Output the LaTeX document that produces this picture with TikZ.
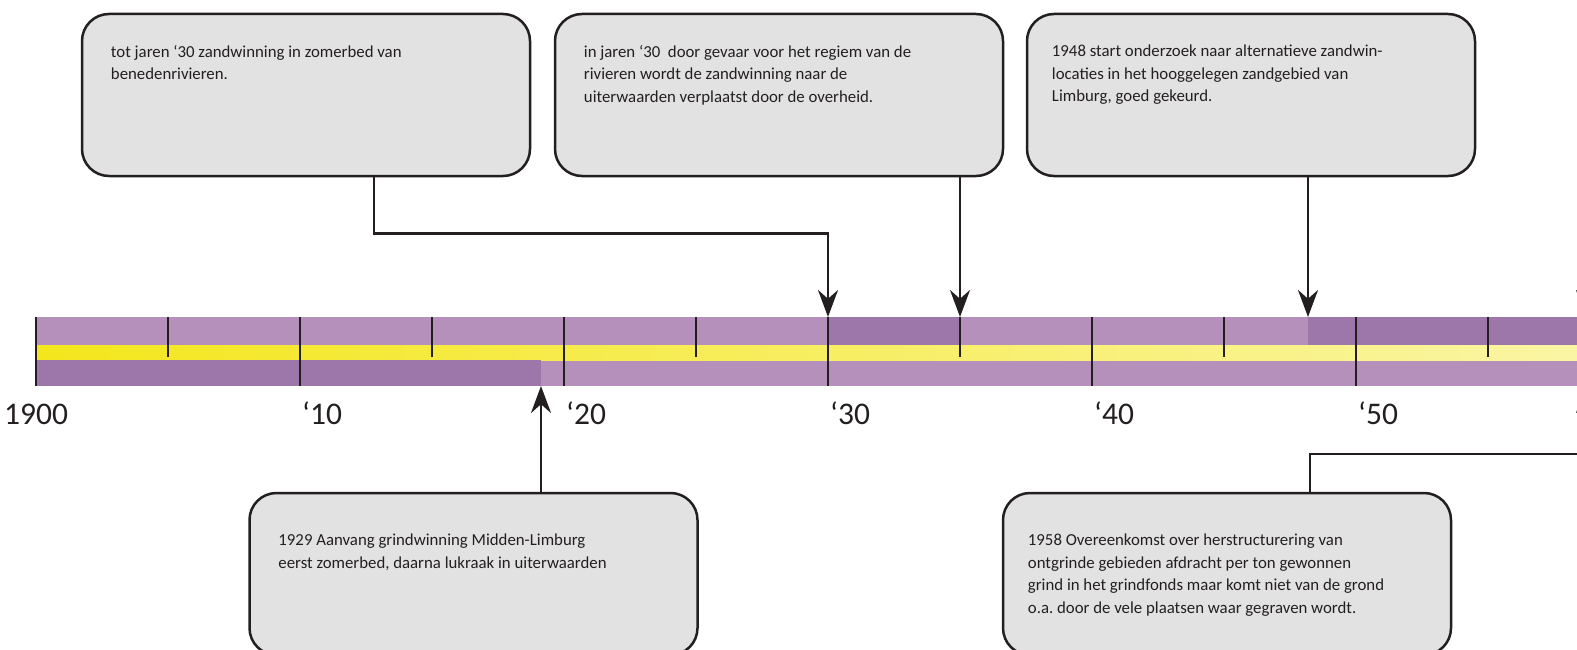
\documentclass[tikz,border=0pt]{standalone}
\usepackage{fontspec}
\setmainfont{Carlito}
\usetikzlibrary{arrows.meta, positioning}
\frenchspacing
\definecolor{barlight}{HTML}{B490BB}
\definecolor{bardark}{HTML}{9E77AA}
\definecolor{bandleft}{HTML}{F4E61C}
\definecolor{bandright}{HTML}{FAF5A4}
\definecolor{boxgray}{HTML}{E2E2E2}
\definecolor{inkblack}{HTML}{231F20}

\begin{document}
\begin{tikzpicture}[
    x=1pt, y=-1pt,
    event/.style={draw=inkblack, fill=boxgray, line width=2.5pt, rounded corners=27pt, minimum width=448pt, minimum height=162pt},
    eventtext/.style={inner sep=0pt, align=left, text=inkblack, font=\fontsize{16.8}{22.5}\selectfont},
    majortick/.style={draw=inkblack, line width=2.7pt},
    minortick/.style={draw=inkblack, line width=2.4pt},
    yearlabel/.style={anchor=base west, inner sep=0pt, text=inkblack, font=\fontsize{31.5}{31.5}\selectfont},
    arrow/.style={-{Stealth[length=27pt, width=20pt]}, line width=2.5pt, draw=inkblack},
]
    \useasboundingbox (0,0) rectangle (1577,650);
    \clip (0,0) rectangle (1577,650);

    % Time bar
    \fill[barlight] (36,317) rectangle (1600,386);
    \shade[left color=bandleft, right color=bandright] (36,345) rectangle (1577,360);
    \fill[bardark] (828,317) rectangle (960,345);
    \fill[bardark] (1308,317) rectangle (1600,345);
    \fill[bardark] (36,360) rectangle (541,386);

    % Ticks
    \foreach \yr in {0,10,...,50} \draw[majortick] ({36+\yr*26.4},317) -- ++(0,69);
    \foreach \yr in {5,15,...,55} \draw[minortick] ({36+\yr*26.4},317) -- ++(0,40);

    % Points on the bar
    \coordinate (t30) at (828,317);
    \coordinate (t35) at (960,317);
    \coordinate (t48) at (1308,317);
    \coordinate (t58) at (1586,317);
    \coordinate (b19) at (541,386);
    \coordinate (b58) at (1586,386);
    \coordinate (offbox) at (1586,176);

    % Year labels
    \node[yearlabel] (y00) at (4,424) {1900};
    \foreach \yr in {10,20,...,50} \node[yearlabel] (y\yr) at ({38+\yr*26.4},424) {‘\yr};

    % Event boxes
    \node[event] (ev1) at (306,95) {};
    \node[event] (ev2) at (779,95) {};
    \node[event] (ev3) at (1251,95) {};
    \node[event] (ev4) at (473.5,574) {};
    \node[event] (ev5) at (1227,574) {};

    \node[eventtext, below right=32pt and 30pt of ev1.north west] (tx1) {tot jaren ‘30 zandwinning in zomerbed van\\benedenrivieren.};
    \node[eventtext, below right=32pt and 30pt of ev2.north west] (tx2) {in jaren ‘30\ \ door gevaar voor het regiem van de\\rivieren wordt de zandwinning naar de\\uiterwaarden verplaatst door de overheid.};
    \node[eventtext, below right=32pt and 26pt of ev3.north west] (tx3) {1948 start onderzoek naar alternatieve zandwin-\\locaties in het hooggelegen zandgebied van\\Limburg, goed gekeurd.};
    \node[eventtext, below right=42pt and 30pt of ev4.north west] (tx4) {1929 Aanvang grindwinning Midden-Limburg\\eerst zomerbed, daarna lukraak in uiterwaarden};
    \node[eventtext, below right=42pt and 26pt of ev5.north west] (tx5) {1958 Overeenkomst over herstructurering van\\ontgrinde gebieden afdracht per ton gewonnen\\grind in het grindfonds maar komt niet van de grond\\o.a. door de vele plaatsen waar gegraven wordt.};

    % Connectors
    \draw[arrow] ([xshift=68pt]ev1.south) -- ++(0,56) -| (t30);
    \draw[arrow] (ev2.south -| t35) -- (t35);
    \draw[arrow] (ev3.south -| t48) -- (t48);
    \draw[arrow] (ev4.north -| b19) -- (b19);
    \draw[arrow] ([xshift=83pt]ev5.north) -- ++(0,-38) -| (b58);
    \draw[arrow] (offbox) -- (t58);

\end{tikzpicture}
\end{document}
